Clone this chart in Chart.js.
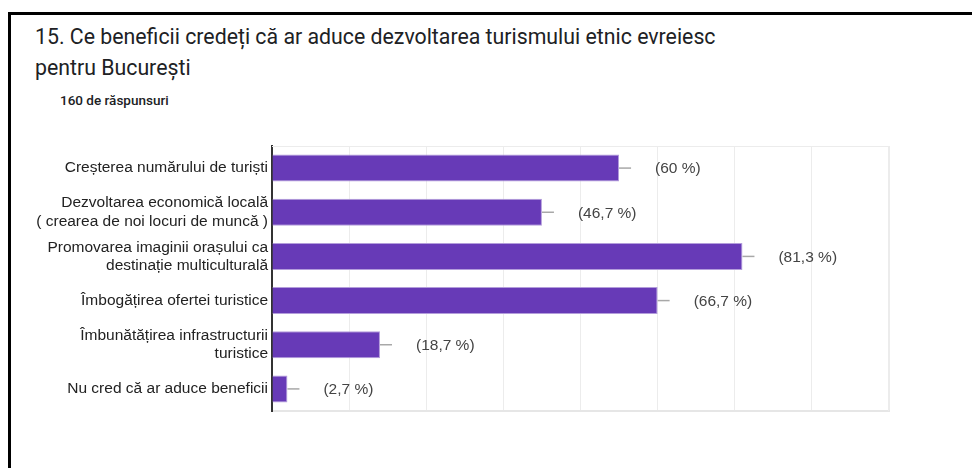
<!DOCTYPE html>
<html>
<head>
<meta charset="utf-8">
<script src="https://cdn.jsdelivr.net/npm/chart.js@4/dist/chart.umd.min.js"></script>
<style>
  html, body { margin: 0; padding: 0; background: #fff; }
  #wrap { position: relative; width: 972px; height: 468px; overflow: hidden; }
  #frame { position: absolute; left: 8px; top: 12px; right: -10px; bottom: -10px;
           border-top: 3px solid #000; border-left: 3px solid #000; }
  #title { position: absolute; left: 35px; top: 21px; font-family: Roboto, sans-serif;
           font-size: 21.3px; line-height: 31px; color: #202124; }
  #sub { position: absolute; left: 60px; top: 92px; font-family: Roboto, sans-serif;
         font-size: 13.5px; font-weight: 500; color: #202124; }
  canvas { position: absolute; left: 0; top: 0; }
</style>
</head>
<body>
<div id="wrap">
  <div id="frame"></div>
  <div id="title">15. Ce beneficii credeți că ar aduce dezvoltarea turismului etnic evreiesc<br>pentru București</div>
  <div id="sub">160 de răspunsuri</div>
  <canvas id="c" width="972" height="468"></canvas>
</div>
<script>
const categories = [
  ["Creșterea numărului de turiști"],
  ["Dezvoltarea economică locală", "( crearea de noi locuri de muncă )"],
  ["Promovarea imaginii orașului ca", "destinație multiculturală"],
  ["Îmbogățirea ofertei turistice"],
  ["Îmbunătățirea infrastructurii", "turistice"],
  ["Nu cred că ar aduce beneficii"]
];
const counts = [90, 70, 122, 100, 28, 4];
const percentLabels = ["(60 %)", "(46,7 %)", "(81,3 %)", "(66,7 %)", "(18,7 %)", "(2,7 %)"];
const xMax = 160;
const xStep = 20;

const labelPlugin = {
  id: 'barLabels',
  afterDatasetsDraw(chart) {
    const ctx = chart.ctx;
    const meta = chart.getDatasetMeta(0);
    ctx.save();
    const a = chart.chartArea;
    ctx.strokeStyle = '#ececec';
    ctx.lineWidth = 1;
    ctx.beginPath();
    ctx.moveTo(a.left, a.top + 0.5);
    ctx.lineTo(a.right, a.top + 0.5);
    ctx.moveTo(a.right - 0.5, a.top);
    ctx.lineTo(a.right - 0.5, a.bottom);
    ctx.stroke();
    meta.data.forEach((bar, i) => {
      const x = bar.x, y = bar.y;
      ctx.strokeStyle = '#a8a8a8';
      ctx.lineWidth = 1.5;
      ctx.beginPath();
      ctx.moveTo(x, y);
      ctx.lineTo(x + 12, y);
      ctx.stroke();
      ctx.fillStyle = '#444';
      ctx.font = '15.5px "Liberation Sans", Arial, sans-serif';
      ctx.textAlign = 'left';
      ctx.textBaseline = 'middle';
      ctx.fillText(percentLabels[i], x + 36, y + 1);
    });
    ctx.restore();
  }
};

new Chart(document.getElementById('c'), {
  type: 'bar',
  data: {
    labels: categories,
    datasets: [{
      data: counts,
      backgroundColor: '#673ab7',
      borderColor: '#b39ddb',
      borderWidth: 1,
      borderSkipped: 'left',
      categoryPercentage: 1,
      barPercentage: 0.61
    }]
  },
  options: {
    indexAxis: 'y',
    responsive: false,
    animation: false,
    layout: { padding: { left: 0, top: 146, right: 83, bottom: 0 } },
    plugins: { legend: { display: false }, tooltip: { enabled: false } },
    scales: {
      x: {
        min: 0, max: xMax,
        ticks: { display: false, stepSize: xStep },
        grid: { color: '#ececec', lineWidth: 1, drawTicks: false },
        border: { color: '#e6e6e6', width: 2 },
        afterFit(s) { s.height = 57; }
      },
      y: {
        ticks: {
          color: '#222',
          padding: 4,
          font: { family: '"Liberation Sans", Arial, sans-serif', size: 15.5, lineHeight: 1.17 }
        },
        grid: { display: false, drawTicks: false },
        border: { color: '#333', width: 2 },
        afterFit(s) { s.width = 272; }
      }
    }
  },
  plugins: [labelPlugin]
});
</script>
</body>
</html>
